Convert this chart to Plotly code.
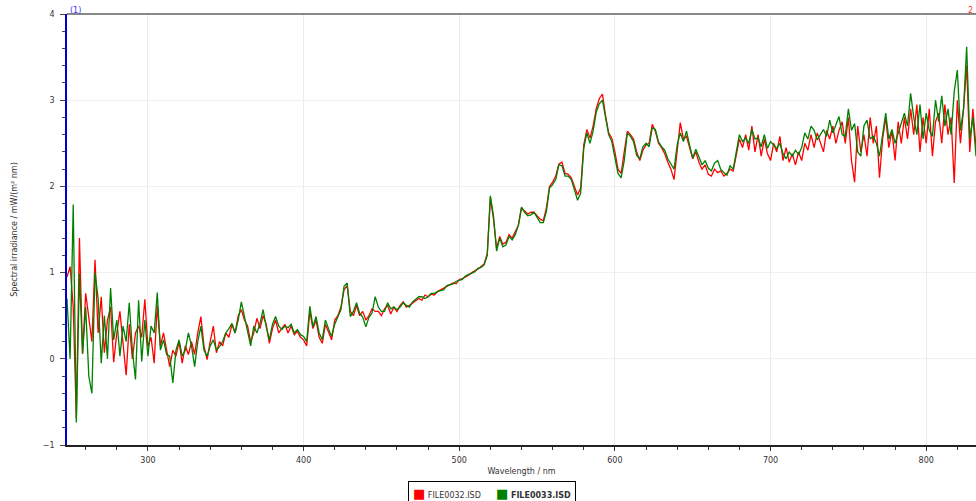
import plotly.graph_objects as go

# wavelengths every 2 nm, 248..832
wavelength = list(range(248, 833, 2))

red_values = [
    0.95, 1.07, 0.60, -0.69, 1.40, 0.06, 0.76, 0.45, 0.20, 1.15,
    0.30, 0.72, 0.07, 0.45, 0.60, -0.04, 0.30, 0.55, 0.20, -0.19,
    0.40, 0.00, 0.30, 0.38, 0.25, 0.69, 0.14, 0.25, -0.05, 0.62,
    0.15, 0.30, 0.10, -0.09, 0.10, 0.03, 0.20, -0.05, 0.15, 0.05,
    0.20, 0.05, 0.30, 0.49, 0.15, -0.01, 0.20, 0.38, 0.07, 0.20,
    0.15, 0.30, 0.25, 0.40, 0.30, 0.50, 0.57, 0.45, 0.38, 0.20,
    0.30, 0.47, 0.35, 0.50, 0.40, 0.18, 0.35, 0.45, 0.30, 0.35,
    0.40, 0.30, 0.38, 0.28, 0.32, 0.25, 0.22, 0.15, 0.55, 0.35,
    0.45, 0.25, 0.18, 0.40, 0.30, 0.22, 0.45, 0.50, 0.60, 0.80,
    0.85, 0.55, 0.50, 0.62, 0.50, 0.55, 0.45, 0.50, 0.58, 0.55,
    0.55, 0.50, 0.58, 0.62, 0.52, 0.60, 0.55, 0.62, 0.66, 0.60,
    0.62, 0.65, 0.68, 0.70, 0.68, 0.74, 0.72, 0.75, 0.74, 0.78,
    0.80, 0.82, 0.84, 0.86, 0.88, 0.87, 0.92, 0.93, 0.95, 0.97,
    1.00, 1.02, 1.04, 1.07, 1.10, 1.22, 1.87, 1.62, 1.28, 1.42,
    1.33, 1.35, 1.44, 1.40, 1.48, 1.55, 1.75, 1.72, 1.68, 1.70,
    1.70, 1.66, 1.62, 1.60, 1.75, 2.00, 2.05, 2.12, 2.26, 2.28,
    2.15, 2.14, 2.10, 2.00, 1.90, 1.98, 2.48, 2.66, 2.56, 2.70,
    2.90, 3.02, 3.07, 2.82, 2.62, 2.56, 2.40, 2.20, 2.15, 2.40,
    2.64, 2.60, 2.55, 2.40, 2.30, 2.42, 2.48, 2.50, 2.72, 2.64,
    2.50, 2.45, 2.38, 2.28, 2.20, 2.08, 2.45, 2.74, 2.55, 2.58,
    2.45, 2.32, 2.40, 2.28, 2.20, 2.25, 2.14, 2.12, 2.20, 2.16,
    2.18, 2.12, 2.15, 2.20, 2.18, 2.38, 2.55, 2.45, 2.60, 2.42,
    2.70, 2.40, 2.60, 2.35, 2.55, 2.38, 2.30, 2.50, 2.40, 2.58,
    2.30, 2.45, 2.28, 2.38, 2.25, 2.40, 2.30, 2.50, 2.42, 2.60,
    2.45, 2.62, 2.50, 2.40, 2.65, 2.55, 2.70, 2.50, 2.65, 2.75,
    2.50, 2.80, 2.30, 2.05, 2.70, 2.40, 2.60, 2.35, 2.80, 2.50,
    2.70, 2.10, 2.55, 2.80, 2.45, 2.65, 2.30, 2.75, 2.50, 2.80,
    2.55, 2.90, 2.60, 2.95, 2.40, 2.80, 2.50, 2.90, 2.35, 2.75,
    2.85, 2.50, 2.95, 2.60, 2.80, 2.04, 3.00, 2.50, 2.90, 3.40,
    2.40, 2.90, 2.45,
]

green_values = [
    0.70, 0.00, 1.79, -0.74, 0.99, 0.06, 0.60, -0.20, -0.40, 1.00,
    0.70, -0.05, 0.50, 0.00, 0.82, 0.22, 0.45, 0.03, 0.38, 0.20,
    0.65, 0.10, -0.24, 0.68, -0.03, 0.45, 0.03, 0.38, 0.30, 0.77,
    0.10, 0.22, 0.05, 0.03, -0.28, 0.10, 0.22, 0.03, 0.10, 0.30,
    0.15, -0.09, 0.20, 0.38, 0.10, 0.03, 0.15, 0.22, 0.10, 0.14,
    0.20, 0.30, 0.35, 0.41, 0.30, 0.45, 0.66, 0.49, 0.30, 0.15,
    0.38, 0.30, 0.41, 0.57, 0.37, 0.22, 0.40, 0.49, 0.38, 0.34,
    0.38, 0.36, 0.40, 0.30, 0.34, 0.28, 0.26, 0.20, 0.61, 0.37,
    0.49, 0.30, 0.22, 0.45, 0.35, 0.26, 0.40, 0.49, 0.57, 0.84,
    0.88, 0.49, 0.55, 0.65, 0.53, 0.48, 0.37, 0.48, 0.53, 0.72,
    0.60, 0.55, 0.55, 0.65, 0.58, 0.60, 0.57, 0.60, 0.65, 0.62,
    0.60, 0.66, 0.69, 0.72, 0.72, 0.70, 0.72, 0.76, 0.76, 0.78,
    0.79, 0.80, 0.85, 0.86, 0.87, 0.90, 0.91, 0.92, 0.96, 0.98,
    0.99, 1.01, 1.05, 1.06, 1.09, 1.20, 1.89, 1.66, 1.25, 1.40,
    1.30, 1.32, 1.42, 1.38, 1.44, 1.55, 1.76, 1.70, 1.66, 1.67,
    1.70, 1.64, 1.58, 1.58, 1.71, 1.98, 2.02, 2.08, 2.25, 2.24,
    2.12, 2.12, 2.08, 1.96, 1.84, 1.92, 2.44, 2.62, 2.50, 2.64,
    2.86, 2.96, 3.00, 2.80, 2.60, 2.52, 2.35, 2.15, 2.10, 2.30,
    2.62, 2.58, 2.52, 2.36, 2.32, 2.46, 2.50, 2.46, 2.68, 2.66,
    2.52, 2.46, 2.42, 2.32, 2.26, 2.20, 2.48, 2.62, 2.52, 2.64,
    2.48, 2.33, 2.43, 2.35, 2.25, 2.30, 2.21, 2.18, 2.27, 2.30,
    2.20, 2.16, 2.13, 2.24, 2.20, 2.40, 2.60, 2.52, 2.56, 2.50,
    2.66, 2.55, 2.56, 2.46, 2.60, 2.44, 2.52, 2.48, 2.44, 2.50,
    2.38, 2.32, 2.40, 2.35, 2.42, 2.37, 2.45, 2.62, 2.55, 2.70,
    2.65, 2.54, 2.60, 2.66, 2.58, 2.77, 2.62, 2.72, 2.81, 2.60,
    2.58, 2.90, 2.65, 2.73, 2.40, 2.35, 2.70, 2.77, 2.55, 2.58,
    2.50, 2.35, 2.60, 2.85, 2.55, 2.66, 2.50, 2.62, 2.75, 2.85,
    2.70, 3.08, 2.80, 2.60, 2.95, 2.55, 2.85, 2.65, 2.58, 3.00,
    2.75, 3.05, 2.70, 2.90, 2.60, 3.10, 3.35, 2.65, 2.90, 3.62,
    2.55, 2.80, 2.35,
]

series_names = ["FILE0032.ISD", "FILE0033.ISD"]
series_colors = ["#ff0000", "#008000"]

y_ticks = [-1, 0, 1, 2, 3, 4]
x_ticks = [300, 400, 500, 600, 700, 800]

FONT = "DejaVu Sans"
fig = go.Figure()

fig.add_trace(go.Scatter(x=wavelength, y=red_values, mode="lines", name=series_names[0],
                         line=dict(color=series_colors[0], width=1.3),
                         showlegend=False, hoverinfo="skip"))
fig.add_trace(go.Scatter(x=wavelength, y=green_values, mode="lines", name=series_names[1],
                         line=dict(color=series_colors[1], width=1.3),
                         showlegend=False, hoverinfo="skip"))

fig.update_layout(
    width=976, height=501,
    margin=dict(l=67, r=0, t=14, b=56, autoexpand=False),
    paper_bgcolor="white", plot_bgcolor="white",
    font=dict(family=FONT, size=8, color="#333333"),
    showlegend=False,
    xaxis=dict(range=[248, 832], tickvals=x_ticks, showgrid=True, gridcolor="#ebebeb",
               zeroline=False, showline=True, linecolor="#222222", linewidth=1.5,
               ticks="outside", ticklen=4, tickcolor="#333333", automargin=False,
               minor=dict(dtick=20, tick0=300, ticks="outside", ticklen=3, tickcolor="#333333", showgrid=False),
               title=dict(text="Wavelength / nm", standoff=4, font=dict(size=8)),
               ticklabelstandoff=3),
    yaxis=dict(range=[-1, 4], tickvals=y_ticks, showgrid=True, gridcolor="#f0f0f0",
               zeroline=False, showline=True, linecolor="#0000cc", linewidth=1.5,
               ticks="outside", ticklen=5, tickcolor="#444444", automargin=False,
               minor=dict(dtick=0.2, tick0=0, ticks="outside", ticklen=3, tickcolor="#444444", showgrid=False),
               title=dict(text="Spectral irradiance / mW/(m² nm)", standoff=24, font=dict(size=8)),
               ticklabelstandoff=4),
)

fig.add_shape(type="line", xref="paper", yref="paper", x0=0, x1=1, y0=1, y1=1,
              line=dict(color="#606060", width=1.5))

fig.add_annotation(text="(1)", xref="paper", yref="paper", x=0, y=1, xanchor="left", yanchor="bottom",
                   xshift=1, showarrow=False, font=dict(size=8, color="#3333ff"), yshift=-3)
fig.add_annotation(text="2", xref="paper", yref="paper", x=1, y=1, xanchor="right", yanchor="bottom",
                   xshift=-1, showarrow=False, font=dict(size=8, color="#ff3333"), yshift=-3)

# legend box (text with coloured square swatches)
sq = '<span style="color:{c};font-size:13px">■</span>'
gap = "\u00a0" * 6
legend_text = (sq.format(c=series_colors[0]) + "\u00a0" + series_names[0] + gap
               + sq.format(c=series_colors[1]) + "\u00a0<b>" + series_names[1] + "</b>")
fig.add_annotation(text=legend_text, xref="paper", yref="paper", x=0.4675, y=-0.0835,
                   xanchor="center", yanchor="top", showarrow=False,
                   bordercolor="#000000", borderwidth=1, borderpad=4, bgcolor="white",
                   font=dict(size=8, color="#333333"))

fig.write_html("out.html", config={"displayModeBar": False},
               post_script="document.body.style.margin='0';document.body.style.overflow='hidden';")
